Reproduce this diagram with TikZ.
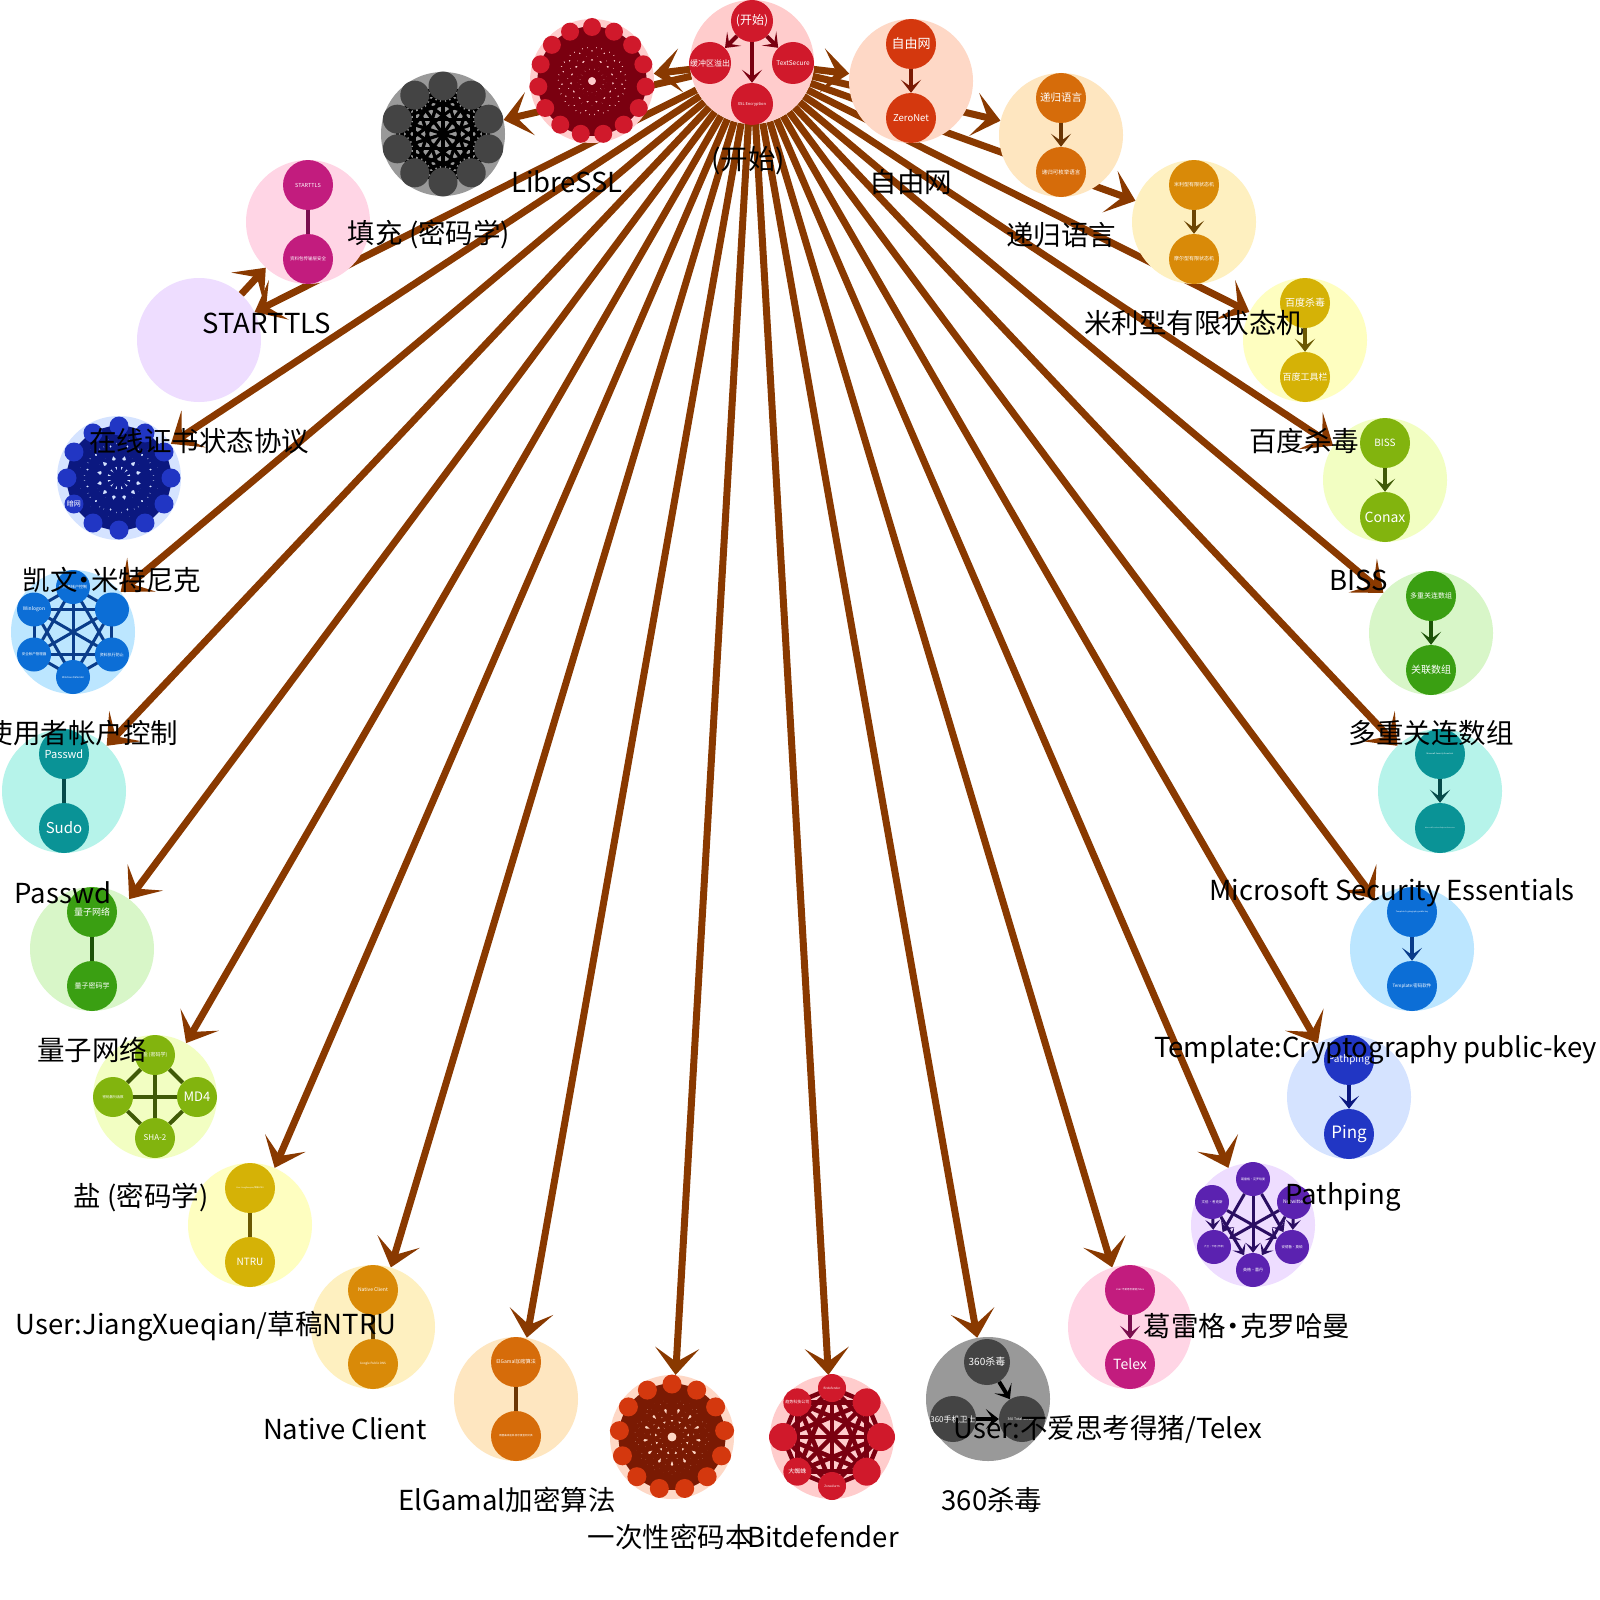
\documentclass[tikz,border=0pt]{standalone}
\usepackage{fontspec}
\setmainfont{Noto Sans CJK SC}
\usetikzlibrary{arrows.meta}
\pgfdeclarelayer{bg}\pgfdeclarelayer{fg}
\pgfsetlayers{bg,main,fg}
\definecolor{arr}{RGB}{137,57,0}
\newcommand\Pal[4]{\definecolor{#1o}{HTML}{#2}\definecolor{#1i}{HTML}{#3}\definecolor{#1e}{HTML}{#4}}
\Pal{A}{FFCCCC}{D0192B}{7A0010}
\Pal{B}{999999}{444444}{000000}
\Pal{C}{FFD5E5}{C21C7E}{7A0E4E}
\Pal{D}{EEDDFF}{5B22B0}{2A0E62}
\Pal{E}{D5E3FF}{2136C4}{0B1880}
\Pal{F}{BCE6FF}{0C6ED6}{0A3C8A}
\Pal{G}{B6F3EA}{0A9396}{064A4A}
\Pal{H}{D8F6C8}{3A9F12}{1C5208}
\Pal{I}{F2FEC2}{82B40E}{405A07}
\Pal{J}{FEFEC0}{D5B206}{6B5903}
\Pal{K}{FEF0C0}{D98A08}{6C4504}
\Pal{L}{FEE6C0}{D66C0A}{6B3605}
\Pal{M}{FED8C6}{D4380E}{7A1A03}
\newcommand\fs[1]{\fontsize{#1}{#1}\selectfont}
\tikzset{
 outc/.style={circle,inner sep=0pt,minimum size=124pt,fill=#1o},
 inc/.style={circle,inner sep=0pt,text=white,fill=#1i,align=center},
 ine/.style={draw=#1e,line width=4pt},
 inarr/.style={draw=#1e,line width=4pt,-{Stealth[length=13pt,width=20pt,inset=7pt]}},
 smarr/.style={draw=#1e,line width=3pt,-{Stealth[length=10pt,width=15pt,inset=5pt]}},
 big/.style={draw=arr,line width=7pt,-{Stealth[length=27pt,width=44pt,inset=14pt]}},
 lab/.style={font=\fs{27.5},text=black,inner sep=0pt},
}
\newcommand\Pair[9]{%
 \node[outc=#4] (#1) at (#2,#3) {};
 \node[inc=#4,minimum size=50pt] (#1a) at (#2,#3-37) {\fs{#6}#5};
 \node[inc=#4,minimum size=50pt] (#1b) at (#2,#3+37) {\fs{#8}#7};
 \draw[#9=#4] (#1a) -- (#1b);
}
\newcommand\Ring[8]{%
 \node[outc=#4] (#1) at (#2,#3) {};
 \foreach \k in {1,...,#5}{\coordinate (#1-p\k) at ({#2+#6*cos(90+360*(\k-1)/#5)},{#3-#6*sin(90+360*(\k-1)/#5)});}
 \foreach \i in {1,...,#5}{\foreach \j in {1,...,#5}{\ifnum\i<\j\relax \draw[draw=#4e,line width=#8pt] (#1-p\i) -- (#1-p\j);\fi}}
 \foreach \fz/\tx [count=\k] in \RingLabels {\node[inc=#4,minimum size=#7pt] (#1-n\k) at (#1-p\k) {\fs{\fz}\tx};}
}
\begin{document}
\begin{tikzpicture}[x=1pt,y=-1pt]
\useasboundingbox (0,0) rectangle (1600,1600);
\begin{pgfonlayer}{bg}
\fill[white] (0,0) rectangle (1600,1600);
\end{pgfonlayer}
% centre cluster
\node[outc=A] (c0) at (752,62) {};
\node[inc=A,minimum size=42pt] (c0a) at (752,21) {\fs{12}(开始)};
\node[inc=A,minimum size=42pt] (c0b) at (710,63) {\fs{8}缓冲区溢出};
\node[inc=A,minimum size=42pt] (c0c) at (793,63) {\fs{6.5}TextSecure};
\node[inc=A,minimum size=42pt] (c0d) at (752,104) {\fs{4}XSL Encryption};
\draw[inarr=A] (c0a) -- (c0b);
\draw[inarr=A] (c0a) -- (c0c);
\draw[inarr=A] (c0a) -- (c0d);
% ring clusters
\def\RingLabels{3/{},3/{},3/{},3/{},3/{},3/{},3/{},3/{},3/{},3/{},3/{},3/{},3/{},3/{},3/{}}
\Ring{libre}{592}{81}{A}{15}{54}{18}{3.5}
\def\RingLabels{3/{},3/{},3/{},3/{},3/{},3/{},3/{},3/{},3/{},3/{}}
\Ring{gray}{443}{134}{B}{10}{48}{29}{3.2}
\def\RingLabels{3/{},3/{},3/{},3/{},7/暗网,3/{},3/{},3/{},3/{},3/{},3/{},3/{}}
\Ring{dblue}{119}{478}{E}{12}{52}{19}{4}
\def\RingLabels{3/{},3/{},3/{},3/{},3/{},3/{},3/{},3/{},3/{},3/{},3/{},3/{},3/{}}
\Ring{otp}{672}{1437}{M}{13}{53}{19}{4}
\def\RingLabels{3/Bitdefender,4/趋势科技公司,3/{},6/大蜘蛛,3/ZoneAlarm,3/{},3/{},3/{}}
\Ring{bitd}{832}{1437}{A}{8}{49}{28}{4.5}
\def\RingLabels{4/使用者帐户控制,5/Winlogon,3.5/安全帐户管理器,2.5/Windows Defender,4/资料执行防止,2.5/{}}
\Ring{winl}{73}{632}{F}{6}{45}{34}{3}
% K4 cluster
\node[outc=I] (md4) at (155,1097) {};
\node[inc=I,minimum size=40pt] (md4a) at (155,1055) {\fs{5}盐 (密码学)};
\node[inc=I,minimum size=40pt] (md4b) at (113,1097) {\fs{3.5}密码散列函数};
\node[inc=I,minimum size=40pt] (md4c) at (197,1097) {\fs{13}MD4};
\node[inc=I,minimum size=40pt] (md4d) at (155,1138) {\fs{8}SHA-2};
\draw[ine=I] (md4a) -- (md4b);
\draw[ine=I] (md4a) -- (md4c);
\draw[ine=I] (md4a) -- (md4d);
\draw[ine=I] (md4b) -- (md4c);
\draw[ine=I] (md4b) -- (md4d);
\draw[ine=I] (md4c) -- (md4d);
% 360 cluster
\node[outc=B] (q360) at (988,1399) {};
\node[inc=B,minimum size=46pt] (q360a) at (987,1362) {\fs{10}360杀毒};
\node[inc=B,minimum size=46pt] (q360b) at (953,1419) {\fs{8}360手机卫士};
\node[inc=B,minimum size=46pt] (q360c) at (1022,1419) {\fs{3.5}360 Total Security};
\draw[inarr=B] (q360a) -- (q360c);
\draw[inarr=B] (q360b) -- (q360c);
% purple cluster
\node[outc=D] (greg) at (1253,1225) {};
\node[inc=D,minimum size=34pt] (greg1) at (1253,1179) {\fs{3}葛雷格·克罗哈曼};
\node[inc=D,minimum size=34pt] (greg2) at (1212,1202) {\fs{3.5}文伯·考克斯};
\node[inc=D,minimum size=34pt] (greg3) at (1294,1202) {\fs{5}Netwitter};
\node[inc=D,minimum size=34pt] (greg4) at (1214,1247) {\fs{2.5}大卫·卡恩 (作家)};
\node[inc=D,minimum size=34pt] (greg5) at (1292,1247) {\fs{3.5}安德鲁·莫顿};
\node[inc=D,minimum size=34pt] (greg6) at (1253,1270) {\fs{4}英格·蕾丹};
\foreach \a/\b in {1/4,1/5,1/6,2/4,2/5,2/6,3/4,3/5,3/6}{\draw[smarr=D] (greg\a) -- (greg\b);}
% pair clusters
\Pair{pinkS}{308}{222}{C}{STARTTLS}{5.5}{资料包传输层安全}{4.5}{ine}
\node[outc=D] (lav) at (199,340) {};
\Pair{passwd}{64}{791}{G}{Passwd}{11}{Sudo}{15}{ine}
\Pair{qnet}{92}{949}{H}{量子网络}{9}{量子密码学}{7}{ine}
\Pair{ntru}{250}{1225}{J}{User:JiangXueqian/草稿NTRU}{2}{NTRU}{10}{ine}
\Pair{nacl}{373}{1327}{K}{Native Client}{5}{Google Public DNS}{3}{ine}
\Pair{elg}{516}{1399}{L}{ElGamal加密算法}{5}{椭圆曲线迪菲-赫尔曼金钥交换}{2.5}{ine}
\Pair{telex}{1130}{1327}{C}{User:不爱思考得猪/Telex}{2.5}{Telex}{14}{inarr}
\Pair{ping}{1349}{1097}{E}{Pathping}{10}{Ping}{17}{inarr}
\Pair{tmpl}{1412}{949}{F}{Template:Cryptography public-key}{2}{Template:密码软件}{4.5}{inarr}
\Pair{mse}{1440}{791}{G}{Microsoft Security Essentials}{2}{Microsoft Forefront Endpoint Protection}{1.6}{inarr}
\Pair{multi}{1431}{633}{H}{多重关连数组}{7}{关联数组}{10}{inarr}
\Pair{biss}{1385}{480}{I}{BISS}{10}{Conax}{14}{inarr}
\Pair{baidu}{1305}{340}{J}{百度杀毒}{10}{百度工具栏}{9}{inarr}
\Pair{mealy}{1194}{222}{K}{米利型有限状态机}{5}{摩尔型有限状态机}{5}{inarr}
\Pair{recur}{1061}{135}{L}{递归语言}{10.5}{递归可枚举语言}{5.5}{inarr}
\Pair{freenet}{911}{81}{M}{自由网}{13}{ZeroNet}{9.5}{inarr}
% big arrows
\begin{pgfonlayer}{bg}
\foreach \t in {libre,gray,lav,dblue,winl,passwd,qnet,md4,ntru,nacl,elg,otp,bitd,q360,telex,greg,ping,tmpl,mse,multi,biss,baidu,mealy,recur,freenet}{\draw[big] (c0) -- (\t);}
\draw[big] (lav) -- (pinkS);
\end{pgfonlayer}
% labels
\begin{pgfonlayer}{fg}
\node[lab] (Lc0) at (748,161) {(开始)};
\node[lab] (Llibre) at (567,182) {LibreSSL};
\node[lab] (Lgray) at (429,235) {填充 (密码学)};
\node[lab] (LpinkS) at (267,323) {STARTTLS};
\node[lab] (Llav) at (199,441) {在线证书状态协议};
\node[lab] (Ldblue) at (112,580) {凯文{\kern-0.25em}·{\kern-0.25em}米特尼克};
\node[lab] (Lwinl) at (82,733) {使用者帐户控制};
\node[lab] (Lpasswd) at (63,893) {Passwd};
\node[lab] (Lqnet) at (92,1050) {量子网络};
\node[lab] (Lmd4) at (141,1197) {盐 (密码学)};
\node[lab] (Lntru) at (206,1326) {User:JiangXueqian/草稿NTRU};
\node[lab] (Lnacl) at (345,1429) {Native Client};
\node[lab] (Lelg) at (507,1500) {ElGamal加密算法};
\node[lab] (Lotp) at (670,1537) {一次性密码本};
\node[lab] (Lbitd) at (823,1537) {Bitdefender};
\node[lab] (Lq360) at (992,1500) {360杀毒};
\node[lab] (Ltelex) at (1108,1429) {User:不爱思考得猪/Telex};
\node[lab] (Lgreg) at (1247,1326) {葛雷格{\kern-0.25em}·{\kern-0.25em}克罗哈曼};
\node[lab] (Lping) at (1343,1197) {Pathping};
\node[lab,anchor=west] (Ltmpl) at (1154,1050) {Template:Cryptography public-key};
\node[lab] (Lmse) at (1392,893) {Microsoft Security Essentials};
\node[lab] (Lmulti) at (1431,733) {多重关连数组};
\node[lab] (Lbiss) at (1359,580) {BISS};
\node[lab] (Lbaidu) at (1304,441) {百度杀毒};
\node[lab] (Lmealy) at (1194,323) {米利型有限状态机};
\node[lab] (Lrecur) at (1061,235) {递归语言};
\node[lab] (Lfreenet) at (911,182) {自由网};
\end{pgfonlayer}
\end{tikzpicture}
\end{document}
